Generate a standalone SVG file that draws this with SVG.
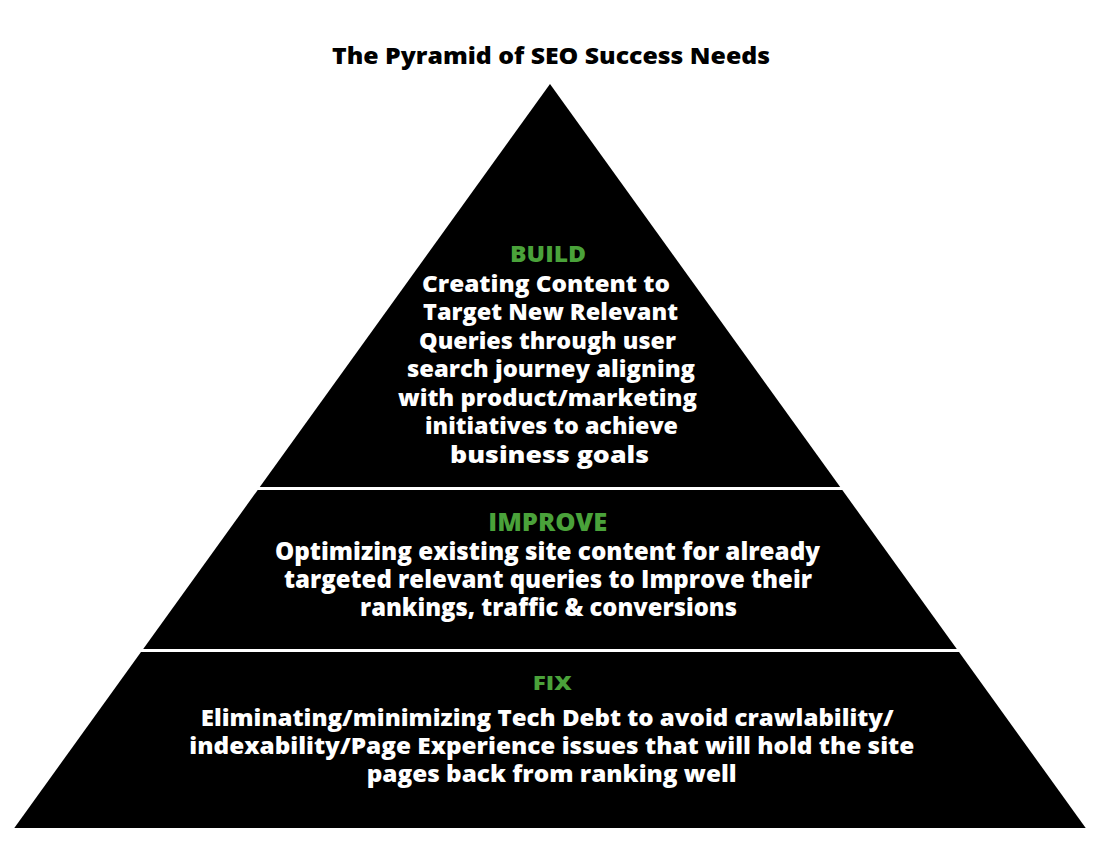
<svg xmlns="http://www.w3.org/2000/svg" width="1116" height="862" viewBox="0 0 1116 862">
<style>
.band{fill:#000}
.title{font-family:"Open Sans",Lato,"Liberation Sans",sans-serif;font-weight:800;font-size:23px;fill:#000}
.head{font-family:"Open Sans",Lato,"Liberation Sans",sans-serif;font-weight:800;fill:#4aa23a}
.body{font-family:"Open Sans",Lato,"Liberation Sans",sans-serif;font-weight:800;fill:#fff}
</style>
<rect width="1116" height="862" fill="#fff"/>
<text class="title" x="332" y="64" textLength="438" lengthAdjust="spacingAndGlyphs">The Pyramid of SEO Success Needs</text>
<g id="connectors"></g>
<g id="build">
<polygon class="band" points="550,84 840.2,487 259.8,487"/>
<text class="head" x="510" y="262" font-size="22" textLength="76" lengthAdjust="spacingAndGlyphs">BUILD</text>
<g class="body" font-size="22">
<text x="422" y="292" textLength="248" lengthAdjust="spacingAndGlyphs">Creating Content to</text>
<text x="423" y="320" textLength="255" lengthAdjust="spacingAndGlyphs">Target New Relevant</text>
<text x="419" y="348.5" textLength="257" lengthAdjust="spacingAndGlyphs">Queries through user</text>
<text x="407" y="377" textLength="288" lengthAdjust="spacingAndGlyphs">search journey aligning</text>
<text x="398" y="405.5" textLength="299" lengthAdjust="spacingAndGlyphs">with product/marketing</text>
<text x="425" y="434" textLength="253" lengthAdjust="spacingAndGlyphs">initiatives to achieve</text>
<text x="450" y="462.5" textLength="199" lengthAdjust="spacingAndGlyphs">business goals</text>
</g>
</g>
<g id="improve">
<polygon class="band" points="257.7,490 842.3,490 956.8,649 143.2,649"/>
<text class="head" x="488.3" y="531" font-size="24" textLength="119" lengthAdjust="spacingAndGlyphs">IMPROVE</text>
<g class="body" font-size="24">
<text x="275" y="560" textLength="545" lengthAdjust="spacingAndGlyphs">Optimizing existing site content for already</text>
<text x="284" y="588" textLength="528" lengthAdjust="spacingAndGlyphs">targeted relevant queries to Improve their</text>
<text x="360" y="616" textLength="377" lengthAdjust="spacingAndGlyphs">rankings, traffic &amp; conversions</text>
</g>
</g>
<g id="fix">
<polygon class="band" points="141,652 959,652 1085.7,828 14.3,828"/>
<text class="head" x="532.7" y="689.5" font-size="19" textLength="39" lengthAdjust="spacingAndGlyphs">FIX</text>
<g class="body" font-size="23">
<text x="200.7" y="726" textLength="693" lengthAdjust="spacingAndGlyphs">Eliminating/minimizing Tech Debt to avoid crawlability/</text>
<text x="189.3" y="754" textLength="725" lengthAdjust="spacingAndGlyphs">indexability/Page Experience issues that will hold the site</text>
<text x="366.7" y="782" textLength="370" lengthAdjust="spacingAndGlyphs">pages back from ranking well</text>
</g>
</g>
</svg>
